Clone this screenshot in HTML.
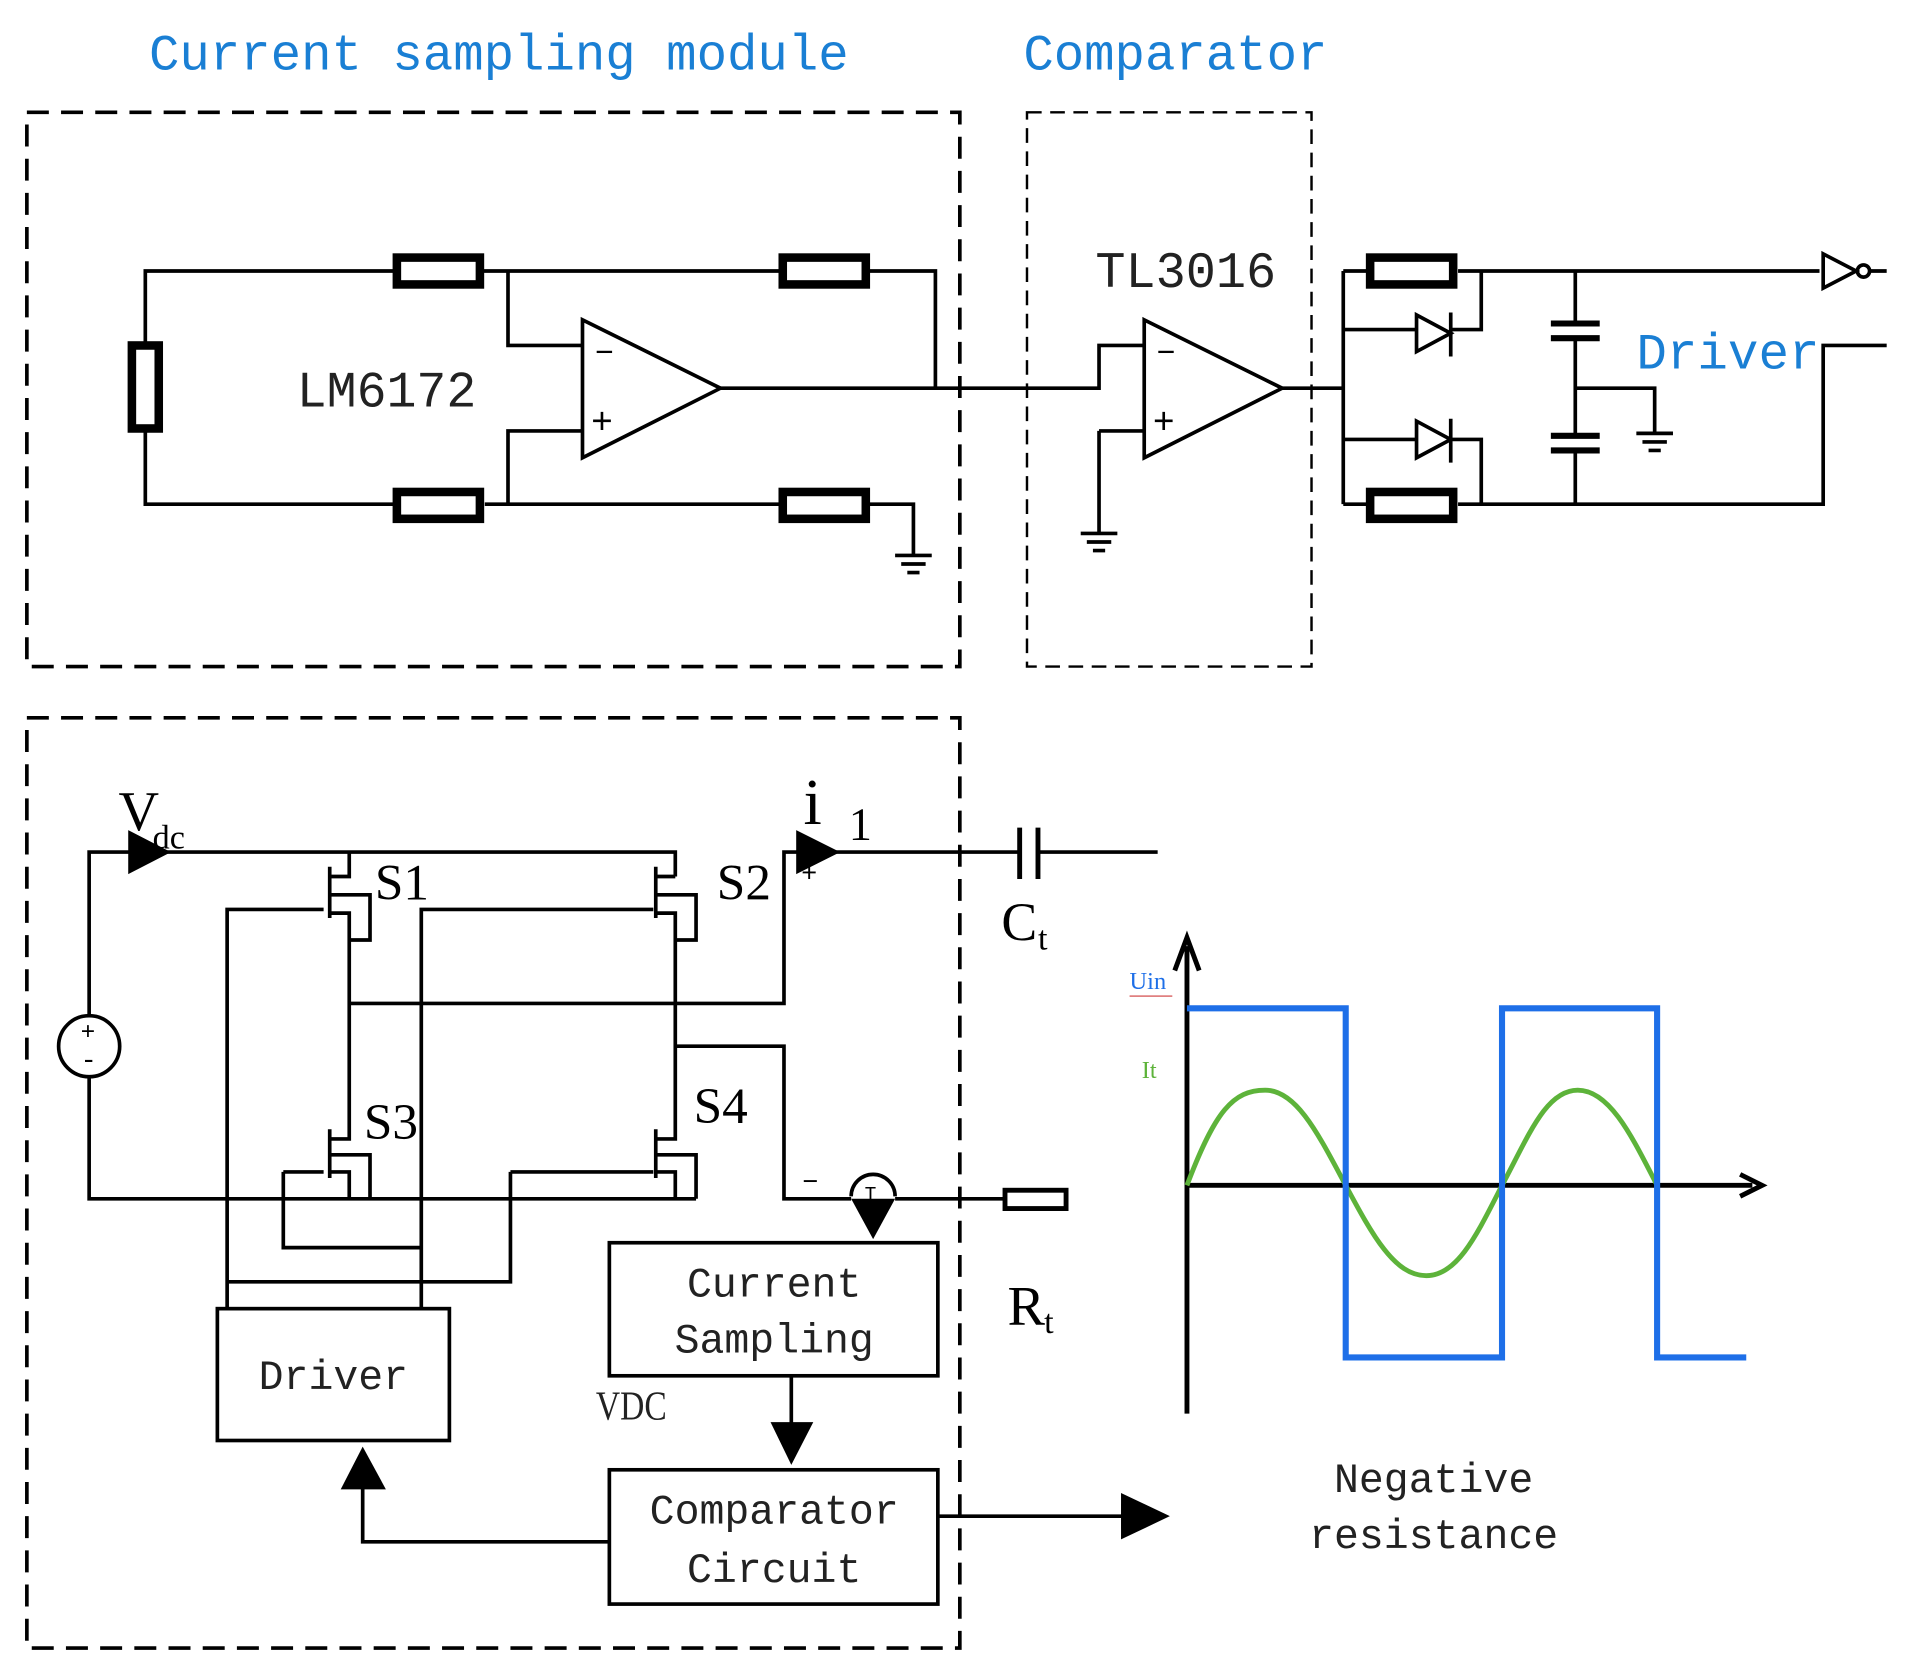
<!DOCTYPE html>
<html><head><meta charset="utf-8"><style>
html,body{margin:0;padding:0;background:#fff;}
svg{display:block;}
text{font-family:"Liberation Mono","Noto Sans CJK SC",monospace;}
.s{font-family:"Liberation Serif","Noto Serif CJK SC",serif;}
</style></head><body>
<svg width="1905" height="1670" viewBox="0 0 1560 1368" preserveAspectRatio="none" xmlns="http://www.w3.org/2000/svg">
<g fill="none" stroke="#000" stroke-width="3">
<!-- dashed boxes -->
<rect x="22" y="92" width="764" height="454" stroke-dasharray="18,10"/>
<rect x="841" y="92" width="233" height="454" stroke-width="2" stroke-dasharray="12,7"/>
<rect x="22" y="588" width="764" height="762" stroke-dasharray="18,10"/>

<!-- top-left current sampling -->
<path d="M119 280V222H322M396 222H638M712 222H766V318"/>
<path d="M119 352V413H322M397 413H638M712 413H748V455"/>
<path d="M416 222V283H477M416 413V353H477"/>
<path d="M477 262V375L590 318Z"/>
<path d="M590 318H900V283H937M900 353H937V353M900 353V437"/>
<path d="M937 262V375L1050 318Z"/>
<path d="M1050 318H1100M1100 222V413"/>
<path d="M1100 222H1120M1194 222H1490M1100 413H1120M1194 413H1493V283H1545"/>
<path d="M1100 270H1160M1188 270H1213V222M1100 360H1160M1188 360H1213V413"/>
<path d="M1290 222V265M1290 277V357M1290 369V413M1290 318H1355V355"/>
<path d="M1493 208V236L1520 222Z"/><circle cx="1526" cy="222" r="5"/><path d="M1531 222H1545"/>
</g>
<g fill="none" stroke="#000" stroke-width="7">
<rect x="325" y="211" width="68" height="22"/>
<rect x="641" y="211" width="68" height="22"/>
<rect x="325" y="403" width="68" height="22"/>
<rect x="641" y="403" width="68" height="22"/>
<rect x="1122" y="211" width="68" height="22"/>
<rect x="1122" y="403" width="68" height="22"/>
<rect x="108" y="283" width="22" height="68"/>
<path d="M1270 265H1310M1270 277H1310M1270 357H1310M1270 369H1310" stroke-width="5"/>
</g>
<g fill="#fff" stroke="#000" stroke-width="3">
<path d="M1160 258V288L1188 273Z"/><path d="M1160 345V375L1188 360Z"/>
</g>
<path d="M1188 256V292M1188 343V379" stroke="#000" stroke-width="3"/>
<!-- grounds -->
<g stroke="#000" stroke-width="3">
<path d="M733 455H763M738 462H758M743 469H753"/>
<path d="M885 437H915M890 444H910M895 451H905"/>
<path d="M1340 355H1370M1345 362H1365M1350 369H1360"/>
</g>
<text x="487" y="297" font-size="26">−</text>
<text x="484" y="355" font-size="30">+</text>
<text x="947" y="297" font-size="26">−</text>
<text x="944" y="355" font-size="30">+</text>

<text x="122" y="57" font-size="42" fill="#1a7fd4" textLength="573" lengthAdjust="spacingAndGlyphs">Current sampling module</text>
<text x="838" y="57" font-size="42" fill="#1a7fd4" textLength="249" lengthAdjust="spacingAndGlyphs">Comparator</text>
<text x="243" y="333" font-size="42" fill="#222" textLength="147" lengthAdjust="spacingAndGlyphs">LM6172</text>
<text x="897" y="235" font-size="42" fill="#222" textLength="148" lengthAdjust="spacingAndGlyphs">TL3016</text>
<text x="1340" y="302" font-size="42" fill="#1a7fd4" textLength="150" lengthAdjust="spacingAndGlyphs">Driver</text>

<!-- bottom circuit -->
<g fill="none" stroke="#000" stroke-width="3">
<path d="M73 832V698H553V718M73 882V982H570"/>
<circle cx="73" cy="857" r="25"/>
<path d="M286 698V718H270M270 710V752M270 748H286V933H270M270 925V965M270 960H286V982"/>
<path d="M270 733H303V770H286M270 946H303V982"/>
<path d="M553 718H537M537 710V752M537 748H553V933H537M537 925V965M537 960H553V982"/>
<path d="M537 733H570V770H553M537 946H570V982"/>
<path d="M186 1072V745H265M345 1072V745H535"/>
<path d="M232 960H265M232 960V1022H345M418 960H535M418 960V1050H186"/>
<path d="M286 822H642V698H835M850 698H948M553 857H642V982H697M733 982H822"/>
<path d="M835 678V720M850 678V720" stroke-width="4"/>
<rect x="823" y="975" width="50" height="15" stroke-width="4"/>
<path d="M697 980A18 18 0 0 1 733 980"/>
<rect x="178" y="1072" width="190" height="108"/>
<rect x="499" y="1018" width="269" height="109"/>
<rect x="499" y="1204" width="269" height="110"/>
<path d="M648 1127V1170M499 1263H297V1215M768 1242H920"/>
</g>
<g fill="#000">
<path d="M105 680L140 698L105 716Z"/>
<path d="M652 680L688 698L652 716Z"/>
<path d="M697 982H733L715 1015Z"/>
<path d="M631 1165H666L648 1200Z"/>
<path d="M279 1220H316L297 1185Z"/>
<path d="M918 1223L958 1242L918 1261Z"/>
</g>
<text x="66" y="851" font-size="20">+</text>
<text x="66" y="875" font-size="22">-</text>
<text x="708" y="983" font-size="16">T</text>
<text x="657" y="975" font-size="22">−</text>
<text x="656" y="722" font-size="22">+</text>
<text class="s" x="97" y="680" font-size="46">V</text>
<text class="s" x="125" y="695" font-size="28">dc</text>
<text class="s" x="307" y="737" font-size="42">S1</text>
<text class="s" x="587" y="737" font-size="42">S2</text>
<text class="s" x="298" y="933" font-size="42">S3</text>
<text class="s" x="568" y="920" font-size="42">S4</text>
<text class="s" x="658" y="675" font-size="54">i</text>
<text class="s" x="695" y="688" font-size="38">1</text>
<text class="s" x="820" y="770" font-size="44">C</text>
<text class="s" x="850" y="778" font-size="28">t</text>
<text class="s" x="825" y="1085" font-size="46">R</text>
<text class="s" x="855" y="1092" font-size="28">t</text>
<text x="273" y="1138" font-size="34" text-anchor="middle" fill="#222">Driver</text>
<text x="634" y="1062" font-size="34" text-anchor="middle" fill="#222">Current</text>
<text x="634" y="1108" font-size="34" text-anchor="middle" fill="#222">Sampling</text>
<text x="634" y="1248" font-size="34" text-anchor="middle" fill="#222">Comparator</text>
<text x="634" y="1296" font-size="34" text-anchor="middle" fill="#222">Circuit</text>
<text class="s" x="488" y="1163" font-size="34" fill="#222" textLength="58" lengthAdjust="spacingAndGlyphs">VDC</text>

<!-- graph -->
<g fill="none">
<path d="M972 1158V775M972 971H1435" stroke="#000" stroke-width="4"/>
<path d="M962 795L972 768L982 795M1425 962L1443 971L1425 980" stroke="#000" stroke-width="4"/>
<path d="M972 971C995 910 1010 893 1036 893C1062 893 1080 930 1102 971C1124 1012 1142 1045 1168 1045C1194 1045 1210 1010 1230 971C1252 930 1266 893 1292 893C1318 893 1336 930 1357 971" stroke="#5db33a" stroke-width="4"/>
<path d="M972 826H1102V1112H1230V826H1357V1112H1430" stroke="#1e6fe8" stroke-width="5"/>
</g>
<text class="s" x="925" y="810" font-size="20" fill="#1e6fe8">Uin</text>
<path d="M925 816H960" stroke="#e08080" stroke-width="1.5"/>
<text class="s" x="935" y="883" font-size="20" fill="#5db33a">It</text>
<text x="1174" y="1222" font-size="34" text-anchor="middle" fill="#222">Negative</text>
<text x="1174" y="1268" font-size="34" text-anchor="middle" fill="#222">resistance</text>
</svg>
</body></html>
